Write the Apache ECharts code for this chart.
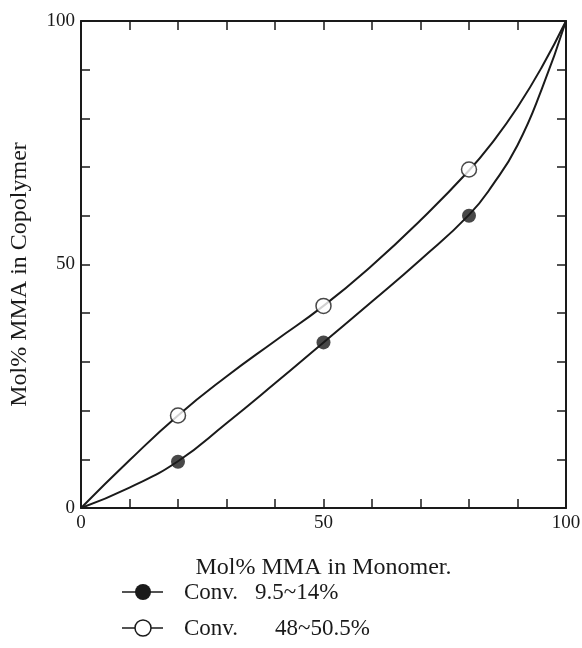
<!DOCTYPE html>
<html>
<head>
<meta charset="utf-8">
<script src="https://cdn.jsdelivr.net/npm/echarts@6/dist/echarts.min.js"></script>
<style>
  html, body { margin: 0; padding: 0; background: #fff; }
  #chart { width: 582px; height: 648px; }
</style>
</head>
<body>
<div id="chart"></div>
<script>
// measured points
const monomerPts = [20, 50, 80];
const lowConv = [9.5, 34, 60];      // Conv. 9.5~14%
const highConv = [19, 41.5, 69.5];  // Conv. 48~50.5%

// curves
const curveX = [0, 10, 20, 30, 40, 50, 60, 70, 80, 85, 90, 95, 100];
const lowCurveY = [0, 4.2, 9.6, 17.4, 25.6, 34, 42.4, 51, 60.2, 66.5, 74.5, 86, 100];
const highCurveY = [0, 9.8, 19, 27, 34.3, 41.5, 49.8, 59.1, 69.3, 75.3, 82.3, 90.5, 100];

const tickLabels = [0, 50, 100];

const font = '"Liberation Serif", "DejaVu Serif", serif';
const ink = '#1a1a1a';

const pairs = (xs, ys) => xs.map((x, i) => [x, ys[i]]);

const chart = echarts.init(document.getElementById('chart'));

const axisCommon = {
  type: 'value',
  min: 0,
  max: 100,
  interval: 10,
  splitLine: { show: false },
  axisLine: { show: true, onZero: false, lineStyle: { color: ink, width: 2 } },
  axisTick: { show: true, inside: true, length: 9, lineStyle: { color: ink, width: 1.5 } },
};

const labelFmt = v => (tickLabels.indexOf(v) >= 0 ? String(v) : '');

chart.setOption({
  backgroundColor: '#fff',
  animation: false,
  grid: { left: 81, right: 16, top: 21, bottom: 140, outerBoundsMode: 'none' },
  xAxis: [
    {
      ...axisCommon,
      position: 'bottom',
      name: 'Mol% MMA in Monomer.',
      nameLocation: 'middle',
      nameGap: 48,
      nameTextStyle: { fontFamily: font, fontSize: 24, color: ink },
      axisLabel: { formatter: labelFmt, fontFamily: font, fontSize: 19, color: ink, margin: 6 },
    },
    {
      ...axisCommon,
      position: 'top',
      axisLabel: { show: false },
    },
  ],
  yAxis: [
    {
      ...axisCommon,
      position: 'left',
      name: 'Mol% MMA in Copolymer',
      nameLocation: 'middle',
      nameRotate: 90,
      nameGap: 49,
      nameTextStyle: { fontFamily: font, fontSize: 24, color: ink, padding: [0, 20, 0, 0] },
      axisLabel: { formatter: labelFmt, fontFamily: font, fontSize: 19, color: ink, margin: 6 },
    },
    {
      ...axisCommon,
      position: 'right',
      axisLabel: { show: false },
    },
  ],
  series: [
    {
      type: 'line',
      data: pairs(curveX, highCurveY),
      smooth: 0.5,
      showSymbol: false,
      lineStyle: { color: ink, width: 2 },
      z: 2,
    },
    {
      type: 'line',
      data: pairs(curveX, lowCurveY),
      smooth: 0.5,
      showSymbol: false,
      lineStyle: { color: ink, width: 2 },
      z: 2,
    },
    {
      name: 'Conv. 48~50.5%',
      type: 'scatter',
      data: pairs(monomerPts, highConv),
      symbol: 'circle',
      symbolSize: 15,
      itemStyle: { color: '#fff', borderColor: ink, borderWidth: 1.5 },
      z: 5,
    },
    {
      name: 'Conv. 9.5~14%',
      type: 'scatter',
      data: pairs(monomerPts, lowConv),
      symbol: 'circle',
      symbolSize: 14,
      itemStyle: { color: ink },
      z: 5,
    },
  ],
  graphic: [
    { type: 'line', shape: { x1: 122, y1: 592, x2: 163, y2: 592 }, style: { stroke: ink, lineWidth: 1.5 } },
    { type: 'circle', shape: { cx: 143, cy: 592, r: 8 }, style: { fill: ink } },
    { type: 'text', x: 184, y: 593, style: { text: 'Conv.', font: '23px ' + font, fill: ink, verticalAlign: 'middle' } },
    { type: 'text', x: 255, y: 593, style: { text: '9.5~14%', font: '23px ' + font, fill: ink, verticalAlign: 'middle' } },
    { type: 'line', shape: { x1: 122, y1: 628, x2: 163, y2: 628 }, style: { stroke: ink, lineWidth: 1.5 } },
    { type: 'circle', shape: { cx: 143, cy: 628, r: 8 }, style: { fill: '#fff', stroke: ink, lineWidth: 1.5 }, z: 10 },
    { type: 'text', x: 184, y: 629, style: { text: 'Conv.', font: '23px ' + font, fill: ink, verticalAlign: 'middle' } },
    { type: 'text', x: 275, y: 629, style: { text: '48~50.5%', font: '23px ' + font, fill: ink, verticalAlign: 'middle' } },
  ],
});
</script>
</body>
</html>
